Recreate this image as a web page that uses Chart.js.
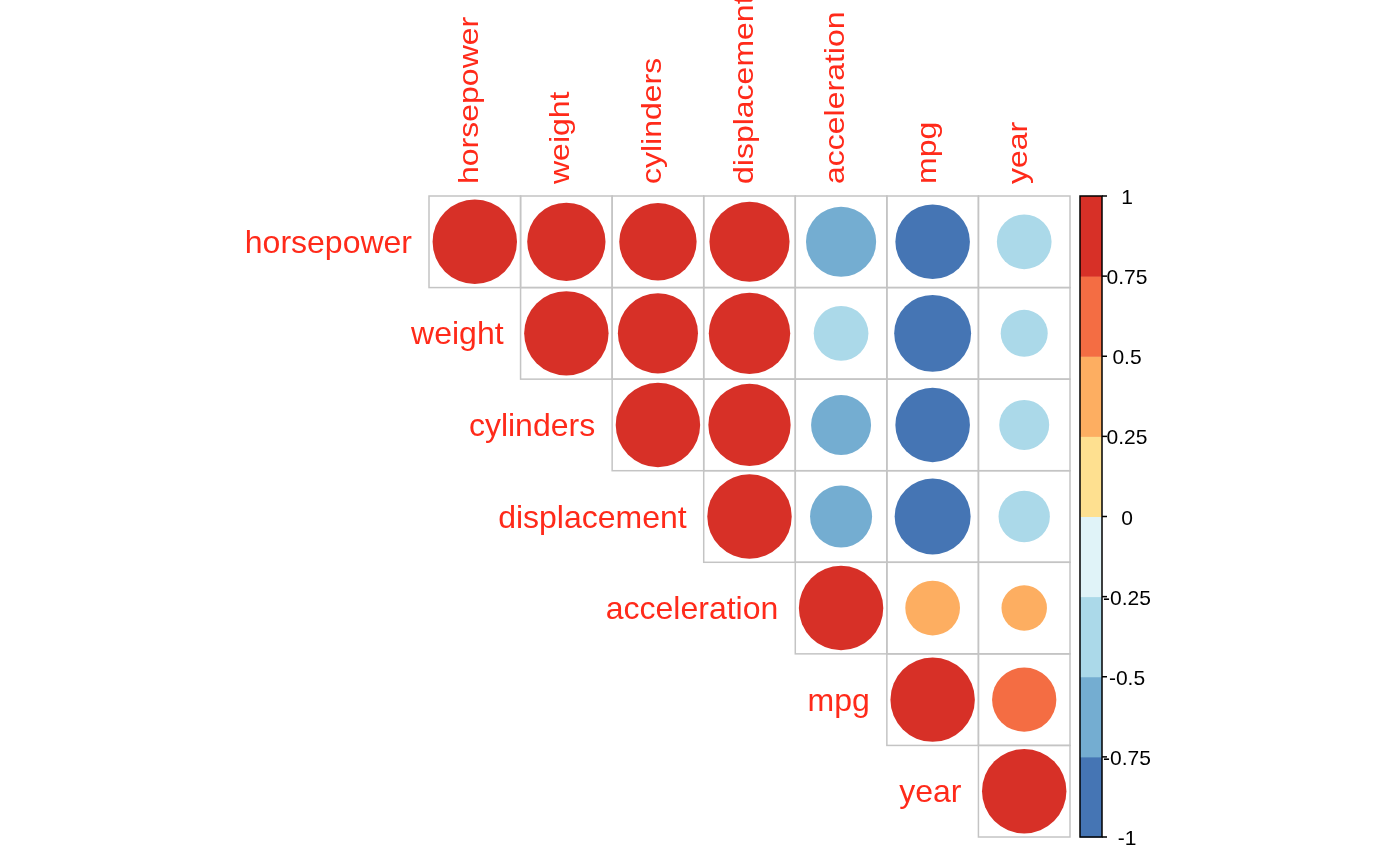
<!DOCTYPE html>
<html>
<head>
<meta charset="utf-8">
<script src="https://cdn.jsdelivr.net/npm/chart.js@4/dist/chart.umd.min.js"></script>
<style>
  body { margin: 0; background: #fff; }
</style>
</head>
<body>
<canvas id="myChart" width="1392" height="856"></canvas>
<script>
// variabler i rekkefølge (samme for rader og kolonner)
const variables = ["horsepower", "weight", "cylinders", "displacement", "acceleration", "mpg", "year"];

// korrelasjoner, øvre trekant, rad for rad (fra diagonalen og utover)
const rowHorsepower = [1, 0.86, 0.84, 0.90, -0.69, -0.78, -0.42];
const rowWeight = [1, 0.90, 0.93, -0.42, -0.83, -0.31];
const rowCylinders = [1, 0.95, -0.505, -0.78, -0.35];
const rowDisplacement = [1, -0.54, -0.81, -0.37];
const rowAcceleration = [1, 0.42, 0.29];
const rowMpg = [1, 0.58];
const rowYear = [1];

// fargeskala (fra -1 til 1) og etiketter for fargelegenden
const palette = ["#4575B4", "#74ADD1", "#ABD9E9", "#E0F3F8", "#FEE090", "#FDAE61", "#F46D43", "#D73027"];
const legendTicks = ["1", "0.75", "0.5", "0.25", "0", "-0.25", "-0.5", "-0.75", "-1"];

const rows = [rowHorsepower, rowWeight, rowCylinders, rowDisplacement, rowAcceleration, rowMpg, rowYear];
const n = variables.length;

const points = [];
rows.forEach((vals, r) => {
    vals.forEach((v, k) => {
        points.push({ x: r + k + 0.5, y: r + 0.5, v: v });
    });
});

function colorFor(v) {
    let i = Math.floor((v + 1) / 0.25);
    if (i > palette.length - 1) i = palette.length - 1;
    if (i < 0) i = 0;
    return palette[i];
}

function radiusFor(ctx) {
    const s = ctx.chart.scales.x;
    const half = (s.right - s.left) / n / 2;
    const v = ctx.raw ? ctx.raw.v : 0;
    return half * 0.922 * Math.sqrt(Math.abs(v));
}

const labelColor = "#FF2A1A";
const fontFamily = "'Liberation Sans', Arial, Helvetica, sans-serif";

// rutenett, etiketter og fargelegende
const corrPlugin = {
    id: 'corrPlugin',
    beforeDatasetsDraw(chart) {
        const ctx = chart.ctx;
        const xs = chart.scales.x, ys = chart.scales.y;
        ctx.save();
        ctx.strokeStyle = "#C4C4C4";
        ctx.lineWidth = 1.5;
        for (let r = 0; r < n; r++) {
            for (let c = r; c < n; c++) {
                const x0 = xs.getPixelForValue(c), x1 = xs.getPixelForValue(c + 1);
                const y0 = ys.getPixelForValue(r), y1 = ys.getPixelForValue(r + 1);
                ctx.strokeRect(x0, y0, x1 - x0, y1 - y0);
            }
        }
        ctx.restore();
    },
    afterDraw(chart) {
        const ctx = chart.ctx;
        const xs = chart.scales.x, ys = chart.scales.y;
        const area = chart.chartArea;
        ctx.save();
        ctx.fillStyle = labelColor;

        // kolonneetiketter (rotert)
        ctx.font = "32px " + fontFamily;
        ctx.textAlign = "left";
        ctx.textBaseline = "alphabetic";
        variables.forEach((name, c) => {
            const cx = xs.getPixelForValue(c + 0.5);
            ctx.save();
            ctx.translate(cx + 3, area.top - 12);
            ctx.rotate(-Math.PI / 2);
            ctx.scale(1, 0.85);
            ctx.fillText(name, 0, 0);
            ctx.restore();
        });

        // radetiketter
        ctx.font = "32px " + fontFamily;
        ctx.textAlign = "right";
        variables.forEach((name, r) => {
            const x = xs.getPixelForValue(r) - 17;
            const y = ys.getPixelForValue(r + 0.5) + 11;
            ctx.fillText(name, x, y);
        });

        // fargelegende
        const bx0 = area.right + 10, bx1 = area.right + 32;
        const top = area.top, bottom = area.bottom;
        const segH = (bottom - top) / palette.length;
        palette.forEach((col, i) => {
            ctx.fillStyle = col;
            ctx.fillRect(bx0, bottom - (i + 1) * segH, bx1 - bx0, segH + 0.5);
        });
        ctx.strokeStyle = "#000";
        ctx.lineWidth = 1.5;
        ctx.strokeRect(bx0, top, bx1 - bx0, bottom - top);

        ctx.fillStyle = "#000";
        ctx.font = "21px " + fontFamily;
        ctx.textAlign = "center";
        const step = (bottom - top) / (legendTicks.length - 1);
        legendTicks.forEach((t, i) => {
            const y = top + i * step;
            ctx.beginPath();
            ctx.moveTo(bx1, y);
            ctx.lineTo(bx1 + 5, y);
            ctx.stroke();
            ctx.fillText(t, bx1 + 25, y + 8);
        });
        ctx.restore();
    }
};

new Chart(document.getElementById('myChart'), {
    type: 'scatter',
    data: {
        datasets: [{
            data: points,
            pointRadius: radiusFor,
            pointHoverRadius: radiusFor,
            backgroundColor: ctx => colorFor(ctx.raw ? ctx.raw.v : 0),
            borderWidth: 0
        }]
    },
    options: {
        responsive: false,
        animation: false,
        events: [],
        layout: { padding: { left: 429, top: 196, right: 322, bottom: 19 } },
        scales: {
            x: { type: 'linear', min: 0, max: n, display: false },
            y: { type: 'linear', min: 0, max: n, reverse: true, display: false }
        },
        plugins: {
            legend: { display: false },
            tooltip: { enabled: false }
        }
    },
    plugins: [corrPlugin]
});
</script>
</body>
</html>
